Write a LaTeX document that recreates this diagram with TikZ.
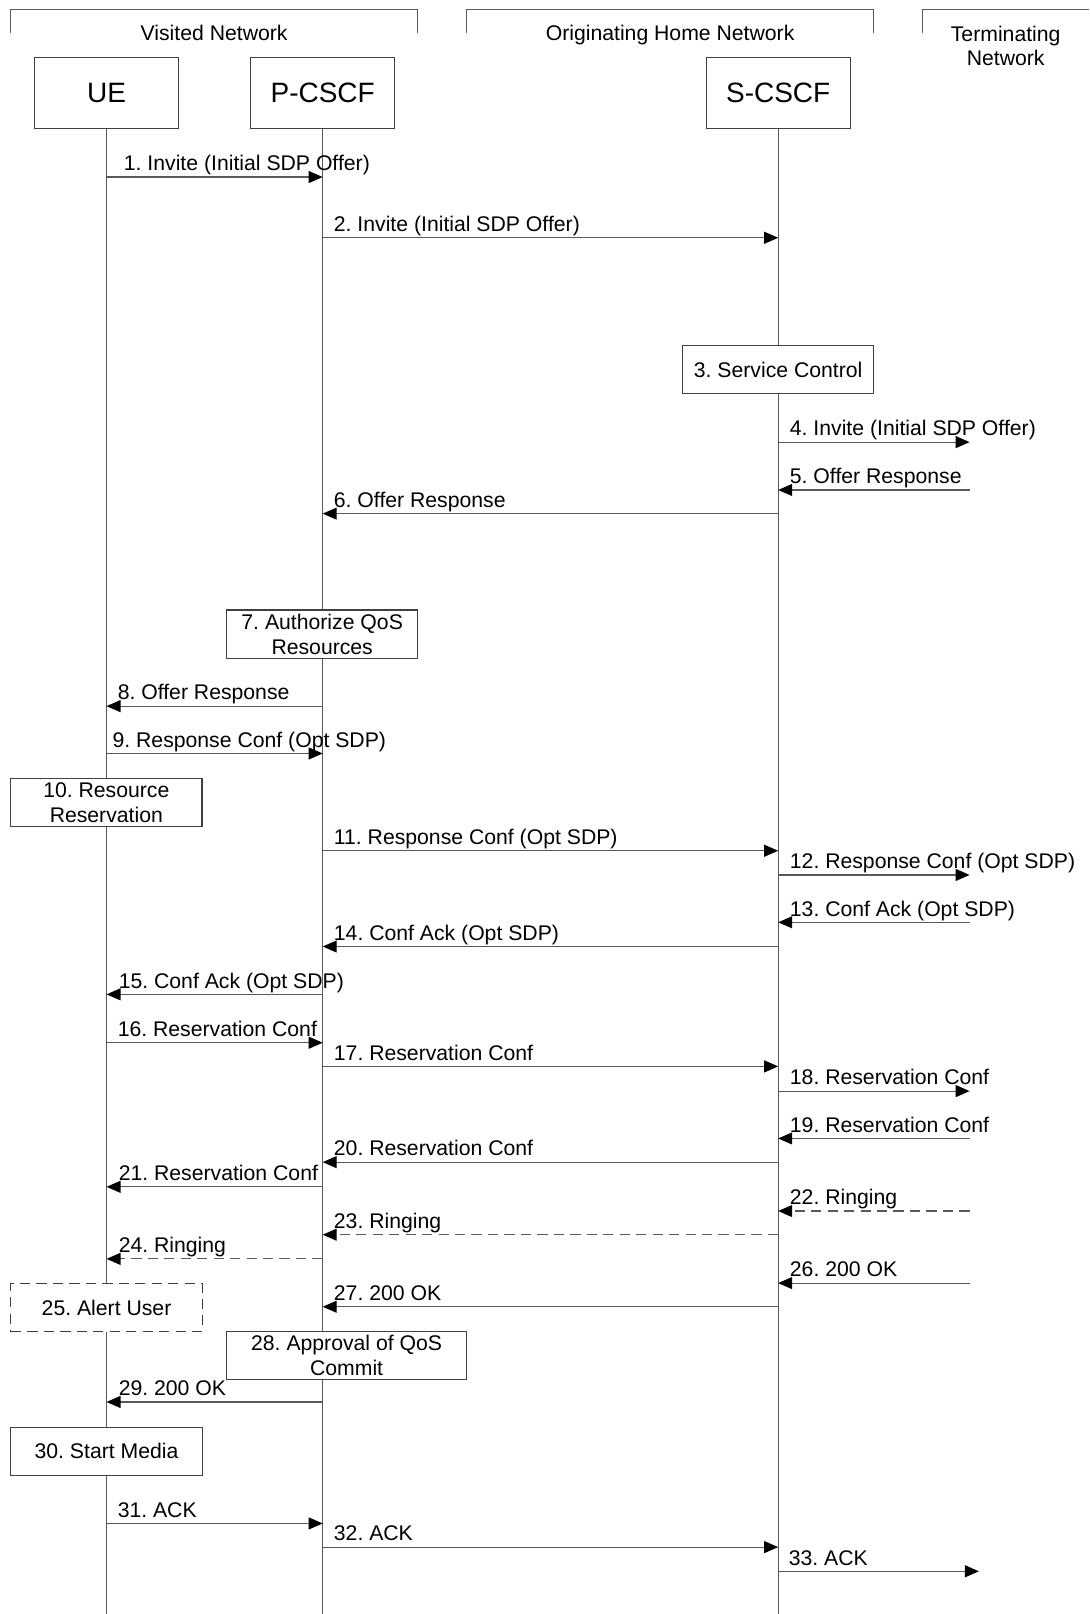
\documentclass[tikz,border=0pt]{standalone}
\usepackage{fontspec}
\setmainfont{Liberation Sans}
\usetikzlibrary{arrows.meta}
\frenchspacing
\newcommand\msg[7][]{% [style]{n}{from}{to}{y}{label x}{text}
  \draw[arr,#1] (#3 |- 0,#5) -- (#4 |- 0,#5);
  \node[lbl] (lab#2) at (#6,#5-6) {#7};
}
\begin{document}
\frenchspacing
\begin{tikzpicture}[x=0.5pt,y=-0.5pt,
  line/.style={draw=black!65,line width=0.55pt},
  arr/.style={line,-{Triangle[length=6.8pt,width=5.8pt,color=black]}},
  dsh/.style={dash pattern=on 5pt off 3pt},
  lbl/.style={anchor=base west,inner sep=0pt,font=\fontsize{10.3}{12.2}\selectfont},
  net/.style={anchor=base,inner sep=0pt,font=\fontsize{10.3}{12.2}\selectfont},
  hdr/.style={draw=black!75,line width=0.55pt,fill=white,minimum width=70pt,minimum height=34.5pt,inner sep=0pt,font=\fontsize{13.6}{16}\selectfont},
  act/.style={draw=black!75,line width=0.55pt,fill=white,inner sep=0pt,align=center,minimum width=93pt,minimum height=23.4pt,font=\fontsize{10.3}{12.15}\selectfont}
]
\useasboundingbox (0,0) rectangle (1058,1568);

% network brackets
\draw[line] (10,32) -- (10,9) -- (406,9) -- (406,32);
\draw[line] (453,32) -- (453,9) -- (849,9) -- (849,32);
\draw[line] (896,32) -- (896,9) -- (1058,9);
\node[net] (vn) at (208,39) {Visited Network};
\node[net] (on) at (651,39) {Originating Home Network};
\node[inner sep=0pt,align=center,font=\fontsize{10.3}{11.3}\selectfont] (tnl) at (977,44.5) {Terminating\\Network};

% participants
\node[hdr] (ue) at (103.5,90.5) {UE};
\node[hdr] (pc) at (313.5,90.5) {P-CSCF};
\node[hdr] (sc) at (756,90.5) {S-CSCF};
\coordinate (tn) at (942,0);
\coordinate (tn2) at (951,0);

% lifelines
\draw[line] (ue.south) -- (ue.south |- 0,1568);
\draw[line] (pc.south) -- (pc.south |- 0,1568);
\draw[line] (sc.south) -- (sc.south |- 0,1568);

% action boxes
\node[act,minimum height=23.25pt] (b3) at (756,359) {3. Service Control};
\node[act] (b7) at (313,616) {7. Authorize QoS\\Resources};
\node[act] (b10) at (103.3,779.5) {10. Resource\\Reservation};
\node[act,dsh] (b25) at (103.5,1270.3) {25. Alert User};
\node[act,minimum width=116.75pt,minimum height=23.1pt] (b28) at (336.75,1317) {28. Approval of QoS\\Commit};
\node[act,minimum height=23.3pt] (b30) at (103.5,1410) {30. Start Media};

% messages
\msg{1}{ue}{pc}{172}{120}{1. Invite (Initial SDP Offer)}
\msg{2}{pc}{sc}{231}{324}{2. Invite (Initial SDP Offer)}
\msg{4}{sc}{tn}{429.5}{767}{4. Invite (Initial SDP Offer)}
\msg{5}{tn}{sc}{476}{767}{5. Offer Response}
\msg{6}{sc}{pc}{499}{324}{6. Offer Response}
\msg{8}{pc}{ue}{686}{114}{8. Offer Response}
\msg{9}{ue}{pc}{732}{109}{9. Response Conf (Opt SDP)}
\msg{11}{pc}{sc}{826.5}{324}{11. Response Conf (Opt SDP)}
\msg{12}{sc}{tn}{850}{767}{12. Response Conf (Opt SDP)}
\msg{13}{tn}{sc}{896}{767}{13. Conf Ack (Opt SDP)}
\msg{14}{sc}{pc}{919.5}{324}{14. Conf Ack (Opt SDP)}
\msg{15}{pc}{ue}{966}{115}{15. Conf Ack (Opt SDP)}
\msg{16}{ue}{pc}{1013}{114}{16. Reservation Conf}
\msg{17}{pc}{sc}{1036}{324}{17. Reservation Conf}
\msg{18}{sc}{tn}{1060}{767}{18. Reservation Conf}
\msg{19}{tn}{sc}{1106}{767}{19. Reservation Conf}
\msg{20}{sc}{pc}{1129}{324}{20. Reservation Conf}
\msg{21}{pc}{ue}{1153}{115}{21. Reservation Conf}
\msg[dsh]{22}{tn}{sc}{1176.5}{767}{22. Ringing}
\msg[dsh]{23}{sc}{pc}{1199.5}{324}{23. Ringing}
\msg[dsh]{24}{pc}{ue}{1223}{115}{24. Ringing}
\msg{26}{tn}{sc}{1246.5}{767}{26. 200 OK}
\msg{27}{sc}{pc}{1269.5}{324}{27. 200 OK}
\msg{29}{pc}{ue}{1362}{115}{29. 200 OK}
\msg{31}{ue}{pc}{1480}{114}{31. ACK}
\msg{32}{pc}{sc}{1503}{324}{32. ACK}
\msg{33}{sc}{tn2}{1526.5}{766}{33. ACK}
\end{tikzpicture}
\end{document}
